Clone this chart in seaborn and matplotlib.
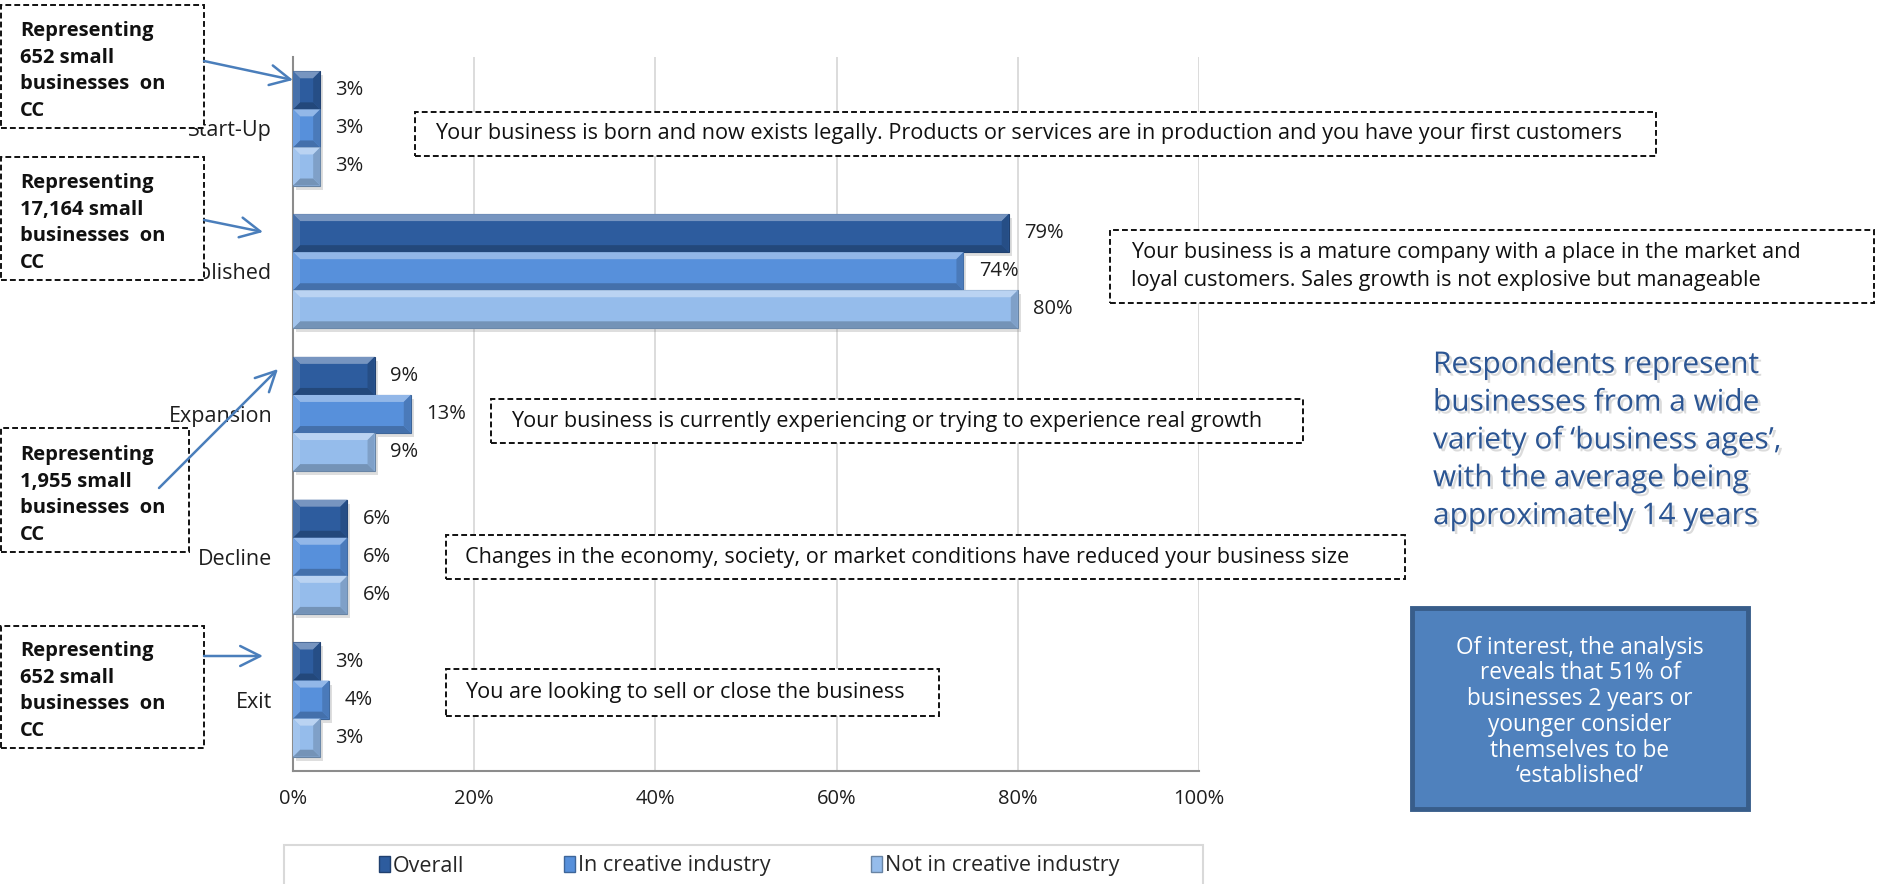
import numpy as np
import pandas as pd
import matplotlib
matplotlib.use("Agg")
import matplotlib.pyplot as plt
import matplotlib.patches as mpatches
import matplotlib.patheffects as pe
from matplotlib.colors import to_rgb
import seaborn as sns

# ---- data -------------------------------------------------------------
stages = ["Start-Up", "Established", "Expansion", "Decline", "Exit"]
groups = ["Overall", "In creative industry", "Not in creative industry"]
overall = [3, 79, 9, 6, 3]
in_creative = [3, 74, 13, 6, 4]
not_creative = [3, 80, 9, 6, 3]
x_ticks = [0, 20, 40, 60, 80, 100]
x_tick_labels = ["0%", "20%", "40%", "60%", "80%", "100%"]

stage_notes = [
    "Your business is born and now exists legally. Products or services are in production and you have your first customers",
    "Your business is a mature company with a place in the market and\nloyal customers. Sales growth is not explosive but manageable",
    "Your business is currently experiencing or trying to experience real growth",
    "Changes in the economy, society, or market conditions have reduced your business size",
    "You are looking to sell or close the business",
]
business_counts = ["652", "17,164", "1,955", "652"]
headline = ("Respondents represent\nbusinesses from a wide\nvariety of \u2018business ages\u2019,\n"
            "with the average being\napproximately 14 years")
insight = ("Of interest, the analysis\nreveals that 51% of\nbusinesses 2 years or\n"
           "younger consider\nthemselves to be\n\u2018established\u2019")

df = pd.DataFrame({
    "stage": np.repeat(stages, 3),
    "group": groups * len(stages),
    "value": np.ravel(np.column_stack([overall, in_creative, not_creative])),
})

palette = ["#2D5C9E", "#5790DB", "#95BCEB"]

# ---- figure -----------------------------------------------------------
sns.set_style("white")
plt.rcParams["font.family"] = ["Open Sans", "DejaVu Sans"]

W, H = 1880, 884
fig = plt.figure(figsize=(W / 100, H / 100), dpi=100)


def fx(px):
    return px / W


def fy(py):
    return 1 - py / H


ax_left, ax_right, ax_top, ax_bottom = 293, 1199, 57, 771
ax = fig.add_axes([fx(ax_left), fy(ax_bottom), fx(ax_right - ax_left), (ax_bottom - ax_top) / H])

sns.barplot(data=df, y="stage", x="value", hue="group", order=stages, hue_order=groups,
            palette=palette, saturation=1, width=0.8, errorbar=None, orient="h", ax=ax)

ax.set_xlim(0, 100)
ax.set_ylim(4.5, -0.5)
ax.set_xticks(x_ticks)
ax.set_xticklabels(x_tick_labels)
ax.set_xlabel("")
ax.set_ylabel("")

grid_c = "#D9D9D9"
spine_c = "#8C8C8C"
ax.set_axisbelow(True)
ax.xaxis.grid(True, color=grid_c, lw=1.3)
ax.yaxis.grid(False)
for s in ["top", "right"]:
    ax.spines[s].set_visible(False)
for s in ["left", "bottom"]:
    ax.spines[s].set_color(spine_c)
    ax.spines[s].set_linewidth(1.5)

ax.set_yticks(np.arange(-0.5, 5, 1), minor=True)
ax.tick_params(axis="y", which="major", length=0, pad=15, labelsize=15.5, labelcolor="#1E1E1E")
ax.tick_params(axis="y", which="minor", length=5, width=1.5, color=spine_c, direction="out")
ax.tick_params(axis="x", which="major", length=5, width=1.5, color=spine_c, pad=8,
               labelsize=14.5, labelcolor="#1E1E1E")

# ---- bevelled bars ----------------------------------------------------
px_x = (ax_right - ax_left) / 100.0
px_y = (ax_bottom - ax_top) / 5.0


def shade(c, f):
    r = np.array(to_rgb(c))
    return tuple(np.clip(r + (1 - r) * f, 0, 1)) if f > 0 else tuple(np.clip(r * (1 + f), 0, 1))


for cont, col in zip(ax.containers, palette):
    for bar in cont:
        x0, y0 = bar.get_x(), bar.get_y()
        w, h = bar.get_width(), bar.get_height()
        x1, y1 = x0 + w, y0 + h
        bar.set_zorder(3)
        bar.set_edgecolor(shade(col, -0.3))
        bar.set_linewidth(0.8)
        bx = min(7 / px_x, w / 2)
        by = 7 / px_y
        ax.add_patch(mpatches.Rectangle((x0 + 3 / px_x, y0 + 4 / px_y), w, h,
                                        color="#7F7F7F", alpha=0.25, lw=0, zorder=2))
        faces = [
            ([(x0, y0), (x1, y0), (x1 - bx, y0 + by), (x0 + bx, y0 + by)], 0.35),
            ([(x0, y1), (x1, y1), (x1 - bx, y1 - by), (x0 + bx, y1 - by)], -0.22),
            ([(x1, y0), (x1, y1), (x1 - bx, y1 - by), (x1 - bx, y0 + by)], -0.15),
            ([(x0, y0), (x0, y1), (x0 + bx, y1 - by), (x0 + bx, y0 + by)], 0.12),
        ]
        for pts, f in faces:
            ax.add_patch(mpatches.Polygon(pts, closed=True, facecolor=shade(col, f),
                                          lw=0, zorder=3.1))
    ax.bar_label(cont, labels=[f"{v:.0f}%" for v in cont.datavalues], padding=11,
                 fontsize=14.5, color="#1E1E1E")

# ---- legend -----------------------------------------------------------
sns.move_legend(ax, "center", bbox_to_anchor=(fx(749), fy(866)), bbox_transform=fig.transFigure,
                ncol=3, frameon=False, title=None, fontsize=15.5, handlelength=0.5,
                handleheight=0.7, handletextpad=0.15, columnspacing=4.65)
for hnd, col in zip(ax.get_legend().legend_handles, palette):
    hnd.set_edgecolor(shade(col, -0.3))
fig.patches.append(mpatches.Rectangle((fx(284), fy(890)), fx(1203 - 284), (890 - 845) / H,
                                      transform=fig.transFigure, fill=False,
                                      edgecolor=grid_c, lw=1.5))

# ---- stage description boxes ------------------------------------------
note_boxes = [
    (415, 112, 1656, 156, 435),
    (1110, 230, 1874, 303, 1131),
    (491, 399, 1303, 443, 511),
    (446, 535, 1405, 579, 465),
    (446, 669, 939, 716, 465),
]
for (l, t, r, b, tx), txt in zip(note_boxes, stage_notes):
    fig.patches.append(mpatches.Rectangle((fx(l), fy(b)), fx(r - l), (b - t) / H,
                                          transform=fig.transFigure, facecolor="white",
                                          edgecolor="#111111", lw=1.4, ls=(0, (3, 1.6)),
                                          zorder=4))
    fig.text(fx(tx), fy((t + b) / 2), txt, ha="left", va="center", fontsize=15.6,
             color="#111111", linespacing=1.38, zorder=5)

# ---- "Representing ..." call-outs with arrows -------------------------
rep_boxes = [
    (0, 5, 204, 128, 71, (204, 61), (293, 80)),
    (0, 157, 204, 280, 223, (204, 220), (263, 232)),
    (0, 428, 189, 552, 495, (159, 488), (278, 369)),
    (0, 626, 204, 748, 691, (204, 656), (263, 656)),
]
for (l, t, r, b, ty, a0, a1), n in zip(rep_boxes, business_counts):
    fig.patches.append(mpatches.Rectangle((fx(l + 1), fy(b)), fx(r - l - 1), (b - t) / H,
                                          transform=fig.transFigure, facecolor="white",
                                          edgecolor="#111111", lw=1.4, ls=(0, (3, 1.6)),
                                          zorder=4))
    fig.text(fx(20), fy(ty), f"Representing\n{n} small\nbusinesses  on\nCC", ha="left",
             va="center", fontsize=14.5, fontweight="bold", color="#111111",
             linespacing=1.43, zorder=5)
    fig.patches.append(mpatches.FancyArrowPatch((fx(a0[0]), fy(a0[1])), (fx(a1[0]), fy(a1[1])),
                                                transform=fig.transFigure,
                                                arrowstyle="->,head_length=0.9,head_width=0.45",
                                                mutation_scale=16, color="#4A7EBB", lw=1.8,
                                                shrinkA=0, shrinkB=0, zorder=6))

# ---- headline and insight panel ---------------------------------------
fig.text(fx(1433), fy(441), headline, ha="left", va="center", fontsize=21.5,
         color="#2B5593", linespacing=1.4,
         path_effects=[pe.SimplePatchShadow(offset=(2, -2), shadow_rgbFace="#9A9A9A", alpha=0.35),
                       pe.Normal()])

fig.patches.append(mpatches.Rectangle((fx(1412), fy(809)), fx(1748 - 1412), (809 - 608) / H,
                                      transform=fig.transFigure, facecolor="#4F81BD",
                                      edgecolor="#385D8A", lw=3.5, zorder=4))
fig.text(fx(1580), fy(712), insight, ha="center", va="center", fontsize=16.3,
         color="white", linespacing=1.1, zorder=5)

fig.savefig("out.png", dpi=100)
